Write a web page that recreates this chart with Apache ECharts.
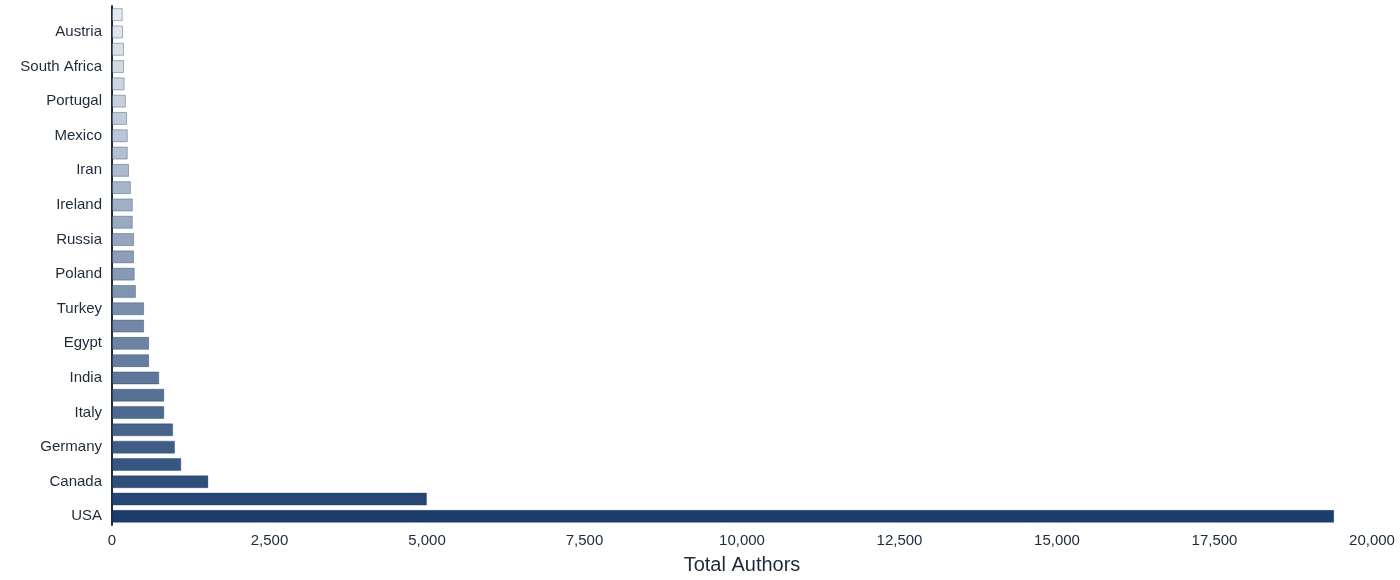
<!DOCTYPE html>
<html lang="en">
<head>
    <meta charset="UTF-8">
    <title>Total Authors</title>
    <script src="https://cdn.jsdelivr.net/npm/echarts@6/dist/echarts.min.js"></script>
    <style>html,body{margin:0;background:#fff}#ec{width:1400px;height:580px}</style>
</head>
<body>
<div id="ec"></div>
<script>
    var countries = ['USA', 'UK', 'Canada', 'France', 'Germany', 'Australia', 'Italy', 'Spain', 'India', 'Japan',
        'Egypt', 'Netherlands', 'Turkey', 'Brazil', 'Poland', 'Indonesia', 'Russia', 'Sweden', 'Ireland', 'Argentina',
        'Iran', 'Belgium', 'Mexico', 'New Zealand', 'Portugal', 'Romania', 'South Africa', 'Greece', 'Austria', 'Czechia'];
    var authors = [19400, 5000, 1530, 1100, 1000, 970, 830, 830, 750, 590,
        590, 510, 510, 380, 360, 350, 350, 330, 330, 300,
        270, 250, 250, 240, 220, 200, 190, 190, 175, 170];

    // dark navy at the top of the ranking, fading to pale grey-blue
    function shade(i, n) {
        var a = [26, 61, 110], b = [228, 233, 240];
        var t = Math.pow(i / (n - 1), 0.85);
        var c = a.map(function (v, k) { return Math.round(v + (b[k] - v) * t); });
        return 'rgb(' + c.join(',') + ')';
    }

    var data = authors.map(function (v, i) {
        return {value: v, itemStyle: {color: shade(i, authors.length)}};
    });

    var myChart = echarts.init(document.getElementById('ec'));
    myChart.setOption({
        animation: false,
        grid: {left: 112, right: 28, top: 6, bottom: 53},
        xAxis: {
            type: 'value',
            min: 0,
            max: 20000,
            interval: 2500,
            name: 'Total Authors',
            nameLocation: 'middle',
            nameGap: 30,
            nameTextStyle: {fontSize: 20, color: '#1c2a3a', fontFamily: 'Liberation Sans'},
            axisLine: {show: false},
            axisTick: {show: false},
            splitLine: {show: false},
            axisLabel: {fontSize: 15, color: '#1c2a3a', fontFamily: 'Liberation Sans', margin: 8}
        },
        yAxis: {
            type: 'category',
            data: countries,
            axisLine: {show: true, lineStyle: {color: '#1c2a3a', width: 2}},
            axisTick: {show: false},
            axisLabel: {fontSize: 15, color: '#1c2a3a', fontFamily: 'Liberation Sans', margin: 10}
        },
        series: [{
            type: 'bar',
            data: data,
            barCategoryGap: '25%',
            itemStyle: {borderColor: 'rgba(20,45,85,0.35)', borderWidth: 1}
        }]
    });
</script>
</body>
</html>
